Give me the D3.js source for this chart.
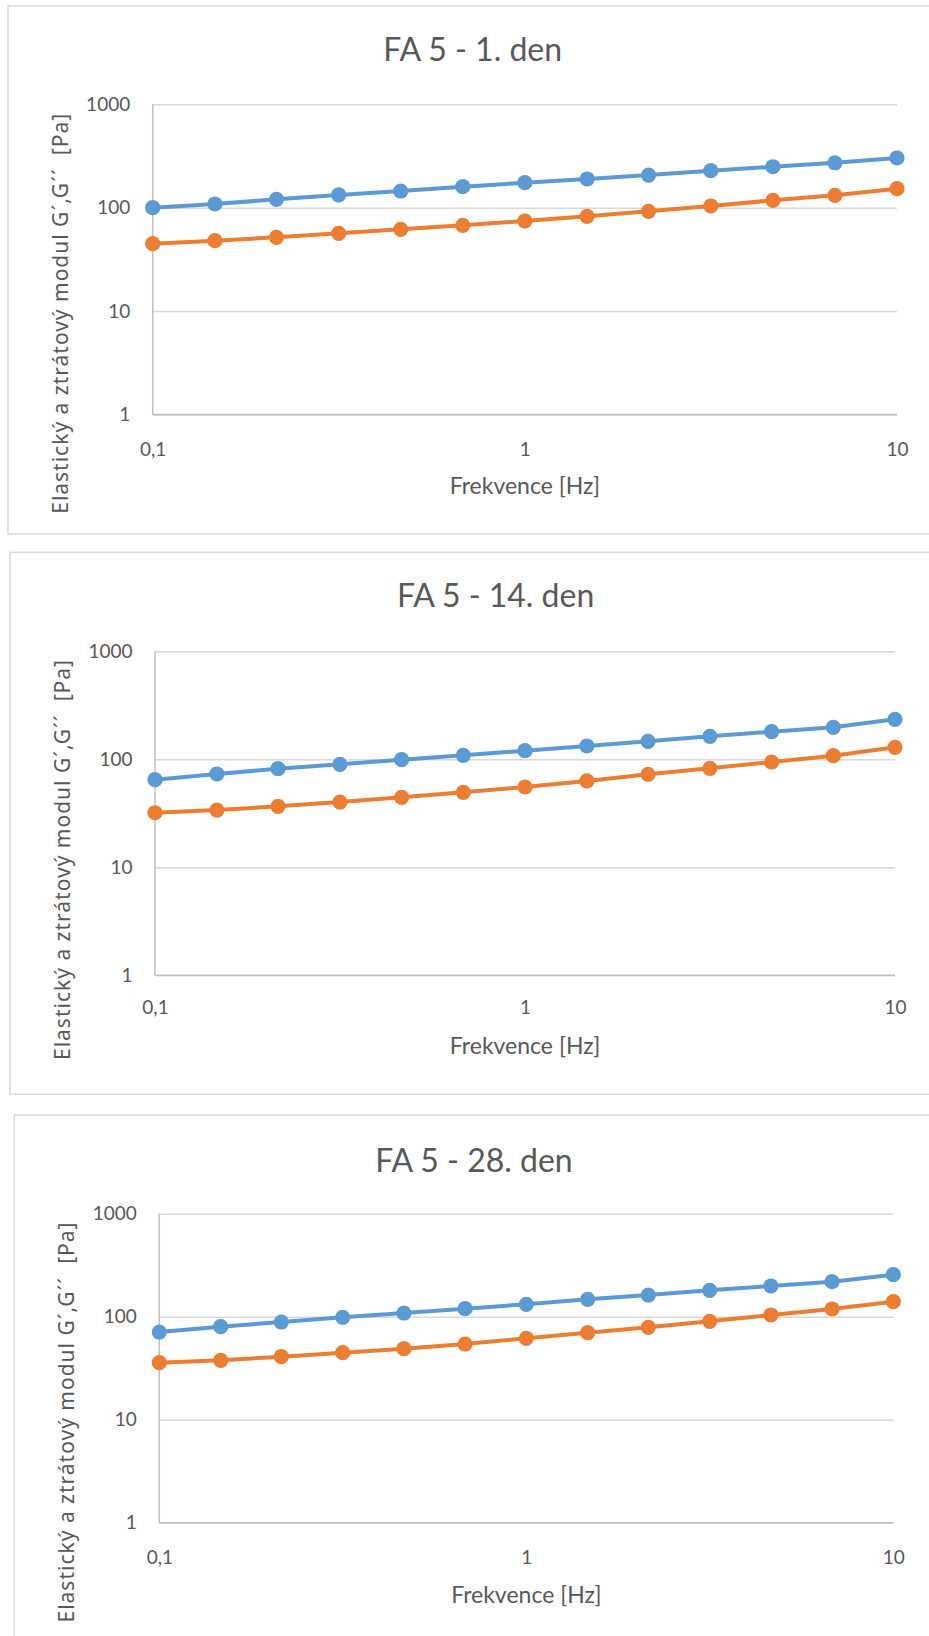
<!DOCTYPE html>
<html>
<head>
<meta charset="utf-8">
<script src="https://cdn.jsdelivr.net/npm/d3@7"></script>
<style>
  body { margin: 0; background: #ffffff; }
  svg { display: block; }
</style>
</head>
<body>
<svg id="chart" width="929" height="1636"></svg>
<script>
// Oscillation frequency sweep, 13 points per decade-step of 1/6
const frequencies = [0.1, 0.147, 0.215, 0.316, 0.464, 0.681, 1, 1.47, 2.15, 3.16, 4.64, 6.81, 10];

const titles = ["FA 5 - 1. den", "FA 5 - 14. den", "FA 5 - 28. den"];

// Storage modulus G´ [Pa]
const storageDay1  = [100, 108.6, 120.5, 132.8, 145, 159.6, 174.5, 189.5, 207, 228, 249, 272, 302.5];
const storageDay14 = [64.7, 73.1, 81.8, 89.9, 99.2, 108.9, 120.1, 132.8, 146.8, 163.3, 180.1, 197.8, 234.5];
const storageDay28 = [71.0, 80.0, 88.8, 98.7, 108.6, 119.6, 132.0, 147.6, 162.4, 180.4, 198.7, 218.7, 255.7];

// Loss modulus G´´ [Pa]
const lossDay1  = [44.9, 48.0, 51.7, 56.5, 61.8, 67.6, 74.4, 82.6, 92.3, 103.9, 117.9, 131.8, 152.7];
const lossDay14 = [32.0, 33.9, 36.7, 40.2, 44.5, 49.5, 55.4, 63.0, 72.6, 82.5, 94.4, 108.0, 129.2];
const lossDay28 = [35.8, 37.7, 40.9, 44.7, 48.9, 54.3, 61.7, 69.9, 78.9, 90.2, 103.9, 118.8, 139.8];

const xTickValues = [0.1, 1, 10];
const xTickLabels = ["0,1", "1", "10"];
const yTickValues = [1, 10, 100, 1000];
const yTickLabels = ["1", "10", "100", "1000"];

const xAxisTitle = "Frekvence [Hz]";
const yAxisTitle = "Elastický a ztrátový modul G´,G´´  [Pa]";

const storageSeries = [storageDay1, storageDay14, storageDay28];
const lossSeries = [lossDay1, lossDay14, lossDay28];

// Panel geometry
const panels = [
  { frame: { x: 8,    y: 6,      h: 528 }, plot: { left: 152.7, right: 897,   top: 104.3,  bottom: 414.5 },
    titleX: 472.7, titleY: 61.4,   yTitleX: 68, yTitleCY: 313.8,  xLabelY: 455.5,  xTitleY: 493.5 },
  { frame: { x: 10,   y: 552.3,  h: 542 }, plot: { left: 155,   right: 895,   top: 651.3,  bottom: 975.3 },
    titleX: 495.6, titleY: 606.8,  yTitleX: 70, yTitleCY: 860,    xLabelY: 1014.5, xTitleY: 1054 },
  { frame: { x: 14.2, y: 1115,   h: 560 }, plot: { left: 159.3, right: 893.3, top: 1213.7, bottom: 1522.7 },
    titleX: 474,   titleY: 1171.8, yTitleX: 74, yTitleCY: 1422.5, xLabelY: 1564,   xTitleY: 1603 }
];

const colors = { storage: "#5B9BD5", loss: "#ED7D31" };
const textColor = "#595959";
const labelFont = "Lato, 'Open Sans', sans-serif";

const svg = d3.select("#chart");

panels.forEach((p, i) => {
  const g = svg.append("g");

  // chart frame
  g.append("rect")
    .attr("x", p.frame.x).attr("y", p.frame.y)
    .attr("width", 960).attr("height", p.frame.h)
    .attr("fill", "#ffffff")
    .attr("stroke", "#d9d9d9").attr("stroke-width", 1.5);

  const x = d3.scaleLog().domain([0.1, 10]).range([p.plot.left, p.plot.right]);
  const y = d3.scaleLog().domain([1, 1000]).range([p.plot.bottom, p.plot.top]);

  // horizontal gridlines + y tick labels
  const yAxis = d3.axisLeft(y)
    .tickValues(yTickValues)
    .tickFormat((d, k) => yTickLabels[k])
    .tickSize(-(p.plot.right - p.plot.left))
    .tickPadding(22.5);
  const yg = g.append("g").attr("transform", `translate(${p.plot.left},0)`).call(yAxis);
  yg.select(".domain").remove();
  yg.selectAll(".tick line").attr("stroke", "#d9d9d9").attr("stroke-width", 1.5);
  yg.selectAll(".tick text")
    .attr("fill", textColor)
    .style("font-family", labelFont)
    .style("font-size", "19px");

  // x tick labels
  const xAxis = d3.axisBottom(x)
    .tickValues(xTickValues)
    .tickFormat((d, k) => xTickLabels[k])
    .tickSize(0);
  const xg = g.append("g").attr("transform", `translate(0,${p.plot.bottom})`).call(xAxis);
  xg.select(".domain").remove();
  xg.selectAll(".tick text")
    .attr("y", p.xLabelY - p.plot.bottom)
    .attr("dy", 0)
    .attr("fill", textColor)
    .style("font-family", labelFont)
    .style("font-size", "19px");

  // axis lines
  g.append("line")
    .attr("x1", p.plot.left).attr("x2", p.plot.left)
    .attr("y1", p.plot.top).attr("y2", p.plot.bottom)
    .attr("stroke", "#bfbfbf").attr("stroke-width", 1.5);
  g.append("line")
    .attr("x1", p.plot.left).attr("x2", p.plot.right)
    .attr("y1", p.plot.bottom).attr("y2", p.plot.bottom)
    .attr("stroke", "#bfbfbf").attr("stroke-width", 1.5);

  // series
  const line = d3.line().x(d => x(d[0])).y(d => y(d[1]));
  [[storageSeries[i], colors.storage], [lossSeries[i], colors.loss]].forEach(([vals, col]) => {
    const pts = frequencies.map((f, k) => [f, vals[k]]);
    g.append("path")
      .datum(pts)
      .attr("d", line)
      .attr("fill", "none")
      .attr("stroke", col)
      .attr("stroke-width", 4)
      .attr("stroke-linejoin", "round");
    g.selectAll(null)
      .data(pts)
      .enter().append("circle")
      .attr("cx", d => x(d[0]))
      .attr("cy", d => y(d[1]))
      .attr("r", 7.6)
      .attr("fill", col);
  });

  // chart title
  g.append("text")
    .attr("x", p.titleX).attr("y", p.titleY)
    .attr("text-anchor", "middle")
    .attr("fill", textColor)
    .style("font-family", labelFont)
    .style("font-size", "32px")
    .text(titles[i]);

  // x axis title
  g.append("text")
    .attr("x", (p.plot.left + p.plot.right) / 2).attr("y", p.xTitleY)
    .attr("text-anchor", "middle")
    .attr("fill", textColor)
    .style("font-family", labelFont)
    .style("font-size", "23px")
    .text(xAxisTitle);

  // y axis title
  g.append("text")
    .attr("transform", `translate(${p.yTitleX},${p.yTitleCY}) rotate(-90)`)
    .attr("text-anchor", "middle")
    .attr("fill", textColor)
    .attr("textLength", 400)
    .attr("lengthAdjust", "spacing")
    .style("white-space", "pre")
    .style("font-family", "'Noto Sans', sans-serif")
    .style("font-size", "21px")
    .text(yAxisTitle);
});
</script>
</body>
</html>
